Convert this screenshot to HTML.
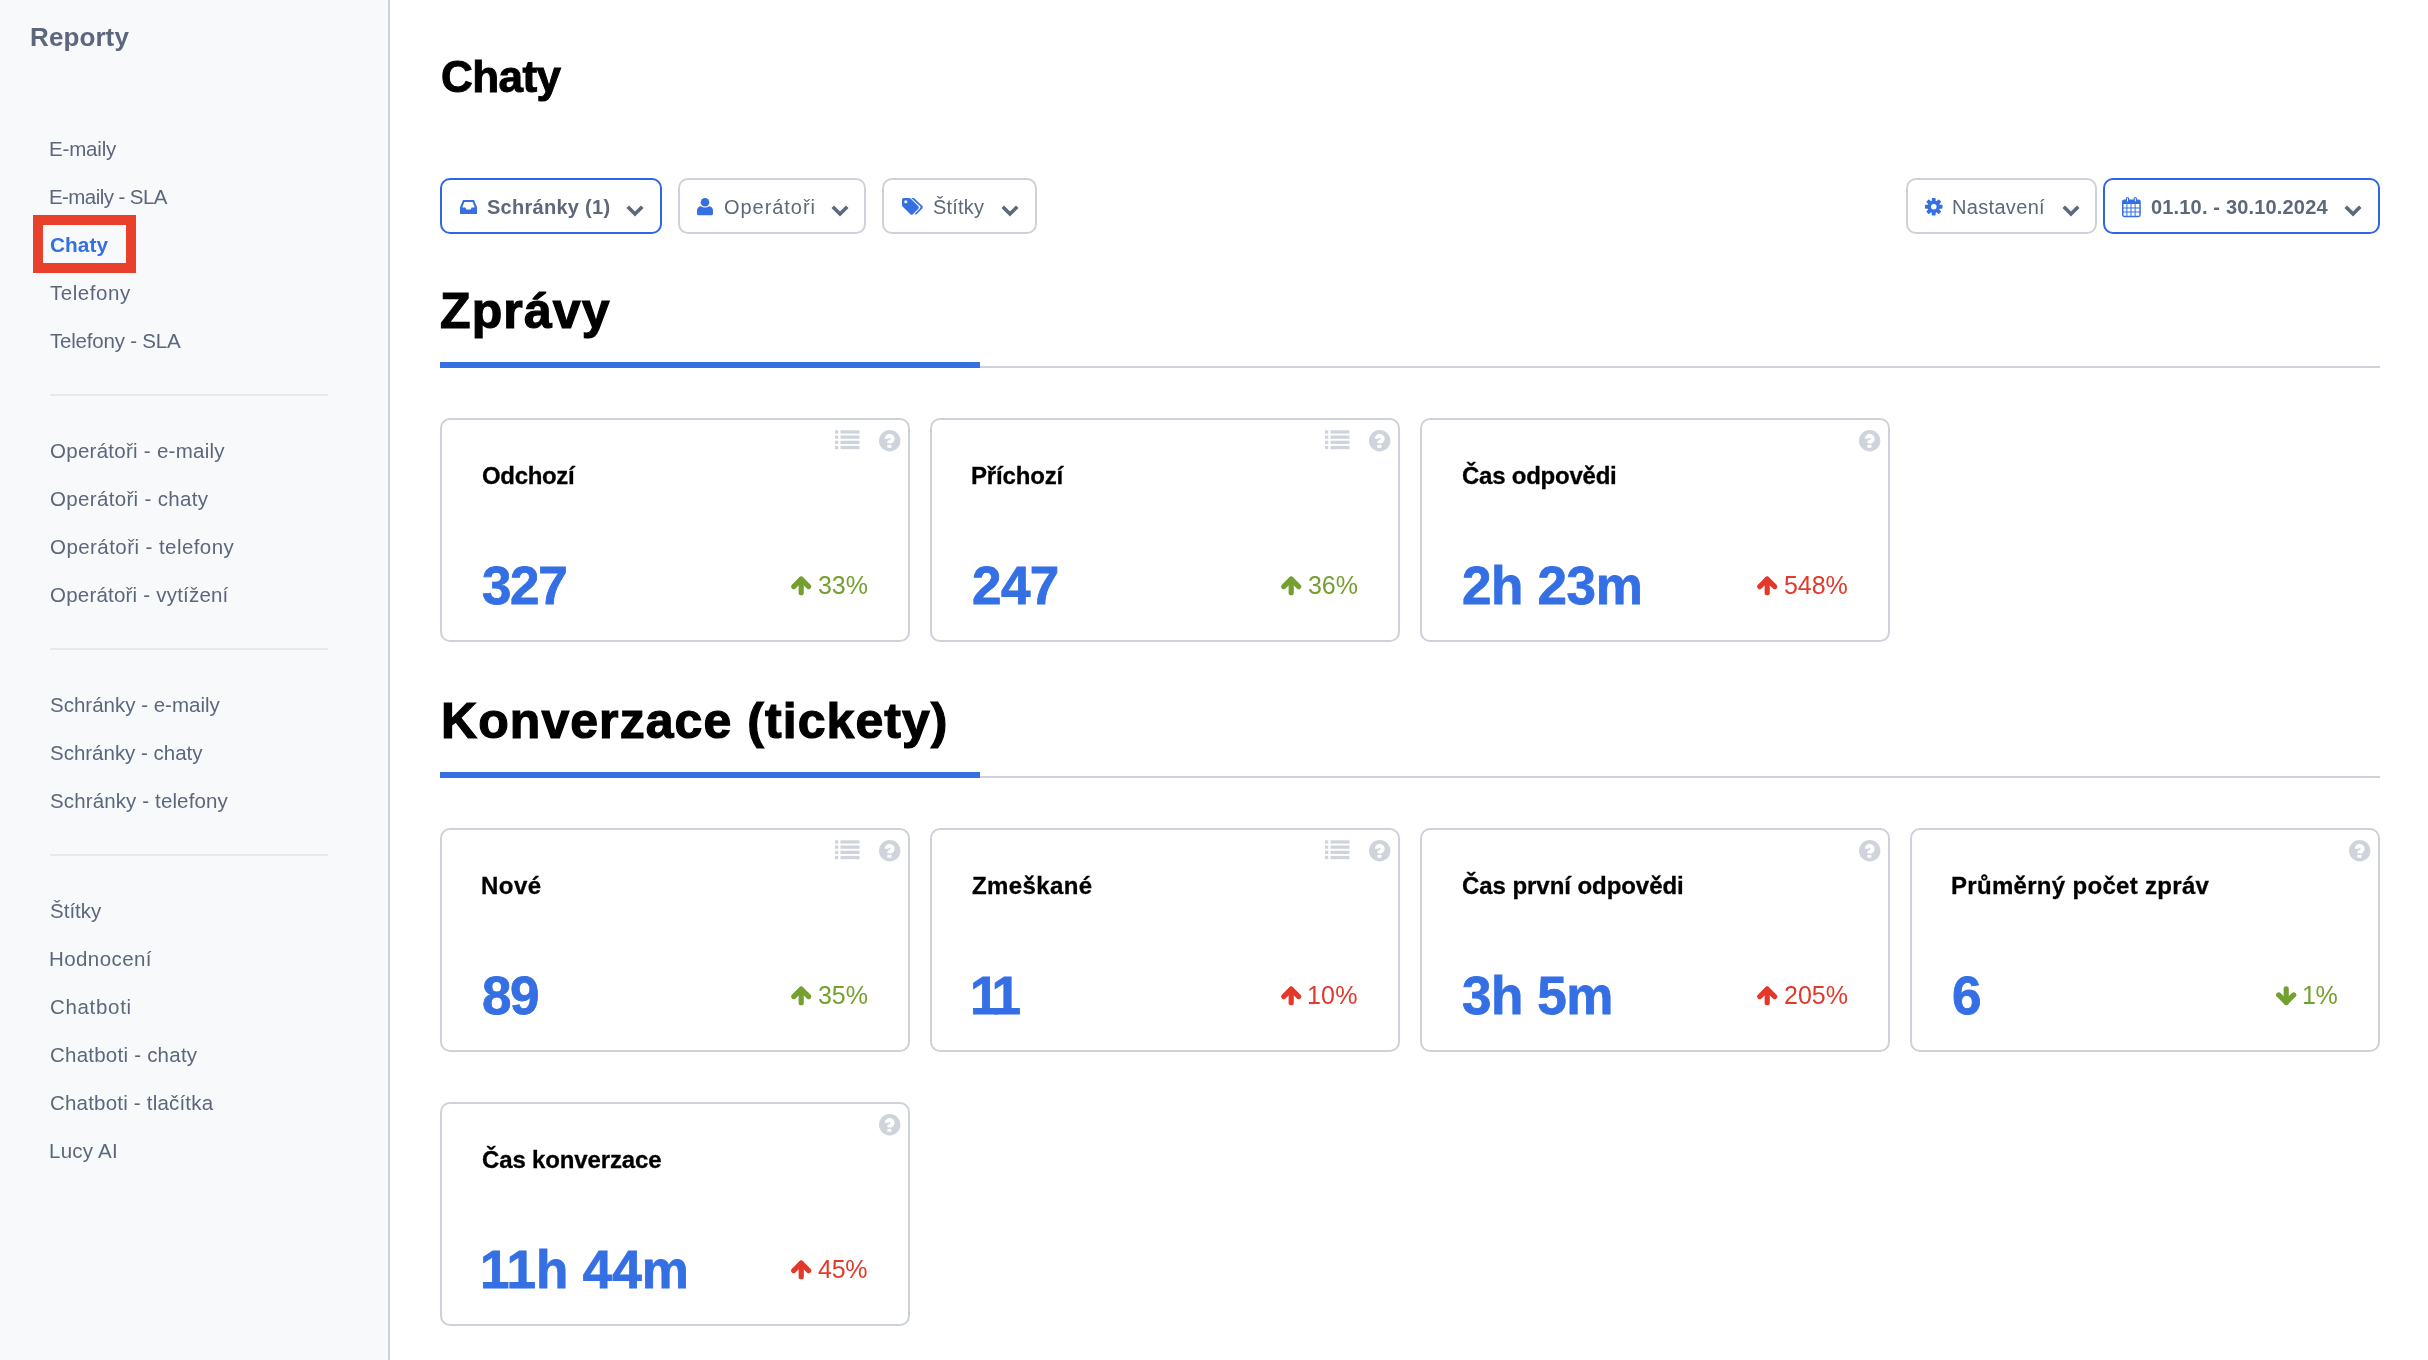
<!DOCTYPE html>
<html><head><meta charset="utf-8"><title>Chaty - Reporty</title>
<style>
html,body{margin:0;padding:0;}
body{width:2428px;height:1360px;position:relative;overflow:hidden;background:#fff;font-family:"Liberation Sans",sans-serif;}
.t{position:absolute;white-space:nowrap;will-change:transform;}
</style></head><body>
<div style="position:absolute;left:0px;top:0px;width:388px;height:1360px;background:#f8f9fb"></div>
<div style="position:absolute;left:388px;top:0px;width:2px;height:1360px;background:#cdd1d9"></div>
<div class="t" style="left:29.80px;top:22.00px;font-size:26px;line-height:30px;color:#5c677c;font-weight:700;letter-spacing:0.100px;">Reporty</div>
<div class="t" style="left:49.30px;top:137.00px;font-size:20.5px;line-height:23px;color:#5c677c;font-weight:400;letter-spacing:-0.167px;">E-maily</div>
<div class="t" style="left:49.30px;top:185.00px;font-size:20.5px;line-height:23px;color:#5c677c;font-weight:400;letter-spacing:-0.575px;">E-maily - SLA</div>
<div style="position:absolute;left:33px;top:215px;width:103px;height:58px;box-sizing:border-box;border:10px solid #e8402a"></div>
<div class="t" style="left:50.20px;top:233.00px;font-size:20.8px;line-height:23px;color:#356fe4;font-weight:700;letter-spacing:0.050px;">Chaty</div>
<div class="t" style="left:49.80px;top:281.00px;font-size:20.5px;line-height:23px;color:#5c677c;font-weight:400;letter-spacing:0.543px;">Telefony</div>
<div class="t" style="left:49.80px;top:329.00px;font-size:20.5px;line-height:23px;color:#5c677c;font-weight:400;letter-spacing:-0.208px;">Telefony - SLA</div>
<div class="t" style="left:49.90px;top:439.00px;font-size:20.5px;line-height:23px;color:#5c677c;font-weight:400;letter-spacing:0.267px;">Operátoři - e-maily</div>
<div class="t" style="left:49.90px;top:487.00px;font-size:20.5px;line-height:23px;color:#5c677c;font-weight:400;letter-spacing:0.338px;">Operátoři - chaty</div>
<div class="t" style="left:49.90px;top:535.00px;font-size:20.5px;line-height:23px;color:#5c677c;font-weight:400;letter-spacing:0.437px;">Operátoři - telefony</div>
<div class="t" style="left:49.90px;top:583.00px;font-size:20.5px;line-height:23px;color:#5c677c;font-weight:400;letter-spacing:0.211px;">Operátoři - vytížení</div>
<div class="t" style="left:49.60px;top:693.00px;font-size:20.5px;line-height:23px;color:#5c677c;font-weight:400;letter-spacing:0.000px;">Schránky - e-maily</div>
<div class="t" style="left:49.60px;top:741.00px;font-size:20.5px;line-height:23px;color:#5c677c;font-weight:400;letter-spacing:-0.013px;">Schránky - chaty</div>
<div class="t" style="left:49.60px;top:789.00px;font-size:20.5px;line-height:23px;color:#5c677c;font-weight:400;letter-spacing:0.128px;">Schránky - telefony</div>
<div class="t" style="left:49.60px;top:899.00px;font-size:20.5px;line-height:23px;color:#5c677c;font-weight:400;letter-spacing:0.020px;">Štítky</div>
<div class="t" style="left:49.30px;top:947.00px;font-size:20.5px;line-height:23px;color:#5c677c;font-weight:400;letter-spacing:0.413px;">Hodnocení</div>
<div class="t" style="left:49.60px;top:995.00px;font-size:20.5px;line-height:23px;color:#5c677c;font-weight:400;letter-spacing:0.671px;">Chatboti</div>
<div class="t" style="left:49.60px;top:1043.00px;font-size:20.5px;line-height:23px;color:#5c677c;font-weight:400;letter-spacing:0.233px;">Chatboti - chaty</div>
<div class="t" style="left:49.60px;top:1091.00px;font-size:20.5px;line-height:23px;color:#5c677c;font-weight:400;letter-spacing:0.200px;">Chatboti - tlačítka</div>
<div class="t" style="left:49.30px;top:1139.00px;font-size:20.5px;line-height:23px;color:#5c677c;font-weight:400;letter-spacing:0.233px;">Lucy AI</div>
<div style="position:absolute;left:50px;top:394px;width:278px;height:2px;background:#e6e8ec"></div>
<div style="position:absolute;left:50px;top:648px;width:278px;height:2px;background:#e6e8ec"></div>
<div style="position:absolute;left:50px;top:854px;width:278px;height:2px;background:#e6e8ec"></div>
<div class="t" style="left:440.70px;top:52.00px;font-size:44px;line-height:49px;color:#000;font-weight:700;letter-spacing:-0.550px;-webkit-text-stroke:1.0px #000;">Chaty</div>
<div style="position:absolute;left:440px;top:178px;width:222px;height:56px;box-sizing:border-box;border:2px solid #2f66e6;border-radius:10px;background:#fff"></div>
<svg style="position:absolute;left:460px;top:200px;overflow:visible" width="17" height="14" viewBox="0 0 17 14"><path fill="#356fe4" fill-rule="evenodd" d="M3 0H14L17 7.2V14H0V7.2Z M4.3 1.9H12.7L14.7 7.4H11.6L10.6 9.6H6.4L5.4 7.4H2.3Z"/></svg>
<div class="t" style="left:487.10px;top:196.00px;font-size:20px;line-height:22px;color:#5e687b;font-weight:700;letter-spacing:0.273px;">Schránky (1)</div>
<svg style="position:absolute;left:626.8px;top:206px;overflow:visible" width="16" height="10" viewBox="0 0 16 10"><polyline points="2,2 8,8 14,2" fill="none" stroke="#5e687b" stroke-width="3.6" stroke-linecap="square"/></svg>
<div style="position:absolute;left:678px;top:178px;width:188px;height:56px;box-sizing:border-box;border:2px solid #cdd1d9;border-radius:10px;background:#fff"></div>
<svg style="position:absolute;left:697.4px;top:198px;overflow:visible" width="16" height="17.5" viewBox="0 0 16 17.5"><circle cx="8" cy="4.3" r="4.3" fill="#356fe4"/><path fill="#356fe4" d="M0 12.5C0 10 1.8 8.2 4 8.2C5.2 9 6.5 9.4 8 9.4C9.5 9.4 10.8 9 12 8.2C14.2 8.2 16 10 16 12.5V15.5C16 16.6 15.3 17.3 14.2 17.3H1.8C0.7 17.3 0 16.6 0 15.5Z"/></svg>
<div class="t" style="left:723.60px;top:196.00px;font-size:20px;line-height:22px;color:#5e687b;font-weight:400;letter-spacing:0.950px;">Operátoři</div>
<svg style="position:absolute;left:831.7px;top:206px;overflow:visible" width="16" height="10" viewBox="0 0 16 10"><polyline points="2,2 8,8 14,2" fill="none" stroke="#5e687b" stroke-width="3.6" stroke-linecap="square"/></svg>
<div style="position:absolute;left:882px;top:178px;width:155px;height:56px;box-sizing:border-box;border:2px solid #cdd1d9;border-radius:10px;background:#fff"></div>
<svg style="position:absolute;left:902px;top:198px;overflow:visible" width="21" height="17" viewBox="0 0 21 17"><g transform="scale(1.045)"><path fill="#356fe4" d="M0 1.6C0 0.7 0.7 0 1.6 0H6.6C7.3 0 7.9 0.3 8.4 0.8L15.6 8C16.3 8.7 16.3 9.7 15.6 10.4L10.4 15.6C9.7 16.3 8.7 16.3 8 15.6L0.8 8.4C0.3 7.9 0 7.3 0 6.6Z"/><circle cx="3.6" cy="3.6" r="1.5" fill="#fff"/></g><path fill="#356fe4" d="M9.2 0H11C11.7 0 12.3 0.3 12.8 0.8L20.3 8C21 8.7 21 9.7 20.3 10.4L14.9 15.9C14.3 16.5 13.3 16.6 12.6 16L18 10.4C18.7 9.7 18.7 8.7 18 8Z"/></svg>
<div class="t" style="left:933.30px;top:196.00px;font-size:20px;line-height:22px;color:#5e687b;font-weight:400;letter-spacing:0.200px;">Štítky</div>
<svg style="position:absolute;left:1002px;top:206px;overflow:visible" width="16" height="10" viewBox="0 0 16 10"><polyline points="2,2 8,8 14,2" fill="none" stroke="#5e687b" stroke-width="3.6" stroke-linecap="square"/></svg>
<div style="position:absolute;left:1906px;top:178px;width:191px;height:56px;box-sizing:border-box;border:2px solid #cdd1d9;border-radius:10px;background:#fff"></div>
<svg style="position:absolute;left:1925.3px;top:198px;overflow:visible" width="17.5" height="17.5" viewBox="0 0 17.5 17.5"><g transform="translate(8.75,8.75)" fill="#356fe4"><rect x="-1.9" y="-8.8" width="3.8" height="4" rx="0.8" transform="rotate(0)"/><rect x="-1.9" y="-8.8" width="3.8" height="4" rx="0.8" transform="rotate(45)"/><rect x="-1.9" y="-8.8" width="3.8" height="4" rx="0.8" transform="rotate(90)"/><rect x="-1.9" y="-8.8" width="3.8" height="4" rx="0.8" transform="rotate(135)"/><rect x="-1.9" y="-8.8" width="3.8" height="4" rx="0.8" transform="rotate(180)"/><rect x="-1.9" y="-8.8" width="3.8" height="4" rx="0.8" transform="rotate(225)"/><rect x="-1.9" y="-8.8" width="3.8" height="4" rx="0.8" transform="rotate(270)"/><rect x="-1.9" y="-8.8" width="3.8" height="4" rx="0.8" transform="rotate(315)"/><circle r="6.2"/><circle r="2.8" fill="#fff"/></g></svg>
<div class="t" style="left:1952.30px;top:196.00px;font-size:20px;line-height:22px;color:#5e687b;font-weight:400;letter-spacing:0.325px;">Nastavení</div>
<svg style="position:absolute;left:2062.5px;top:206px;overflow:visible" width="16" height="10" viewBox="0 0 16 10"><polyline points="2,2 8,8 14,2" fill="none" stroke="#5e687b" stroke-width="3.6" stroke-linecap="square"/></svg>
<div style="position:absolute;left:2103px;top:178px;width:277px;height:56px;box-sizing:border-box;border:2px solid #2f66e6;border-radius:10px;background:#fff"></div>
<svg style="position:absolute;left:2122.2px;top:196.7px;overflow:visible" width="18.8" height="20.2" viewBox="0 0 18.8 20.2"><rect x="0.75" y="3.2" width="17.3" height="16.2" rx="1.6" fill="none" stroke="#356fe4" stroke-width="1.5"/><rect x="0.75" y="3.2" width="17.3" height="3.8" fill="#356fe4"/><rect x="3.5" y="7" width="0" height="0"/><rect x="7.6" y="7" width="0" height="0"/><rect x="11.7" y="7" width="0" height="0"/><rect x="14.8" y="7" width="0" height="0"/><rect x="4.4" y="7" width="1" height="12" fill="#356fe4"/><rect x="8.5" y="7" width="1" height="12" fill="#356fe4"/><rect x="12.6" y="7" width="1" height="12" fill="#356fe4"/><rect x="1" y="10.5" width="17" height="1" fill="#356fe4"/><rect x="1" y="14.5" width="17" height="1" fill="#356fe4"/><rect x="3.8" y="0" width="3.4" height="5.4" rx="1.7" fill="#356fe4"/><rect x="11.6" y="0" width="3.4" height="5.4" rx="1.7" fill="#356fe4"/><rect x="5" y="1.2" width="1" height="3.2" fill="#fff"/><rect x="12.8" y="1.2" width="1" height="3.2" fill="#fff"/></svg>
<div class="t" style="left:2150.80px;top:196.00px;font-size:20px;line-height:22px;color:#5e687b;font-weight:700;letter-spacing:0.172px;">01.10. - 30.10.2024</div>
<svg style="position:absolute;left:2345.1px;top:206px;overflow:visible" width="16" height="10" viewBox="0 0 16 10"><polyline points="2,2 8,8 14,2" fill="none" stroke="#5e687b" stroke-width="3.6" stroke-linecap="square"/></svg>
<div class="t" style="left:439.80px;top:283.00px;font-size:50px;line-height:56px;color:#000;font-weight:700;letter-spacing:1.120px;-webkit-text-stroke:1.2px #000;">Zprávy</div>
<div style="position:absolute;left:440px;top:362px;width:540px;height:6px;background:#356fe4"></div>
<div style="position:absolute;left:980px;top:366px;width:1400px;height:2px;background:#cdd1da"></div>
<div class="t" style="left:441.20px;top:693.00px;font-size:50px;line-height:56px;color:#000;font-weight:700;letter-spacing:1.063px;-webkit-text-stroke:1.2px #000;">Konverzace (tickety)</div>
<div style="position:absolute;left:440px;top:772px;width:540px;height:6px;background:#356fe4"></div>
<div style="position:absolute;left:980px;top:776px;width:1400px;height:2px;background:#cdd1da"></div>
<div style="position:absolute;left:440px;top:418px;width:470px;height:224px;box-sizing:border-box;border:2px solid #cdd1d9;border-radius:10px;background:#fff"></div>
<svg style="position:absolute;left:834.5px;top:430.3px;overflow:visible" width="25" height="19.5" viewBox="0 0 25 19.5"><rect x="0" y="0.3" width="3.3" height="3.3" fill="#cfd4dc"/><rect x="5.5" y="0.3" width="19" height="3.3" fill="#cfd4dc"/><rect x="0" y="5.5" width="3.3" height="3.3" fill="#cfd4dc"/><rect x="5.5" y="5.5" width="19" height="3.3" fill="#cfd4dc"/><rect x="0" y="10.7" width="3.3" height="3.3" fill="#cfd4dc"/><rect x="5.5" y="10.7" width="19" height="3.3" fill="#cfd4dc"/><rect x="0" y="15.9" width="3.3" height="3.3" fill="#cfd4dc"/><rect x="5.5" y="15.9" width="19" height="3.3" fill="#cfd4dc"/></svg>
<svg style="position:absolute;left:878.5px;top:430.2px;overflow:visible" width="21.4" height="21.4" viewBox="0 0 21.4 21.4"><circle cx="10.7" cy="10.7" r="10.7" fill="#cfd4dc"/><path d="M7.8 8.85A2.9 2.9 0 1 1 12.9 10.7L10.4 12.3V13.35" fill="none" stroke="#fff" stroke-width="4.1"/><rect x="8.35" y="14.9" width="4.1" height="2.9" fill="#fff"/></svg>
<div class="t" style="left:481.65px;top:462.00px;font-size:24px;line-height:27px;color:#000;font-weight:700;letter-spacing:-0.350px;-webkit-text-stroke:0.3px #000;">Odchozí</div>
<div class="t" style="left:482.20px;top:556.00px;font-size:53px;line-height:59px;color:#356fe4;font-weight:700;letter-spacing:-1.400px;-webkit-text-stroke:0.8px #356fe4;">327</div>
<div class="t" style="left:817.60px;top:570.60px;font-size:25px;line-height:28px;color:#73a02e;font-weight:400;letter-spacing:-0.050px;">33%</div>
<svg style="position:absolute;left:790.6px;top:576.2px;overflow:visible" width="20.3" height="19.5" viewBox="0 0 20.3 19.5"><g fill="none" stroke="#73a02e" stroke-width="5.2" stroke-linecap="round" stroke-linejoin="round"><polyline points="2.7,10.6 10.2,3.1 17.7,10.6"/><line x1="10.2" y1="3.3" x2="10.2" y2="16.7"/></g></svg>
<div style="position:absolute;left:930px;top:418px;width:470px;height:224px;box-sizing:border-box;border:2px solid #cdd1d9;border-radius:10px;background:#fff"></div>
<svg style="position:absolute;left:1324.5px;top:430.3px;overflow:visible" width="25" height="19.5" viewBox="0 0 25 19.5"><rect x="0" y="0.3" width="3.3" height="3.3" fill="#cfd4dc"/><rect x="5.5" y="0.3" width="19" height="3.3" fill="#cfd4dc"/><rect x="0" y="5.5" width="3.3" height="3.3" fill="#cfd4dc"/><rect x="5.5" y="5.5" width="19" height="3.3" fill="#cfd4dc"/><rect x="0" y="10.7" width="3.3" height="3.3" fill="#cfd4dc"/><rect x="5.5" y="10.7" width="19" height="3.3" fill="#cfd4dc"/><rect x="0" y="15.9" width="3.3" height="3.3" fill="#cfd4dc"/><rect x="5.5" y="15.9" width="19" height="3.3" fill="#cfd4dc"/></svg>
<svg style="position:absolute;left:1368.5px;top:430.2px;overflow:visible" width="21.4" height="21.4" viewBox="0 0 21.4 21.4"><circle cx="10.7" cy="10.7" r="10.7" fill="#cfd4dc"/><path d="M7.8 8.85A2.9 2.9 0 1 1 12.9 10.7L10.4 12.3V13.35" fill="none" stroke="#fff" stroke-width="4.1"/><rect x="8.35" y="14.9" width="4.1" height="2.9" fill="#fff"/></svg>
<div class="t" style="left:971.05px;top:462.00px;font-size:24px;line-height:27px;color:#000;font-weight:700;letter-spacing:-0.157px;-webkit-text-stroke:0.3px #000;">Příchozí</div>
<div class="t" style="left:971.60px;top:556.00px;font-size:53px;line-height:59px;color:#356fe4;font-weight:700;letter-spacing:-0.600px;-webkit-text-stroke:0.8px #356fe4;">247</div>
<div class="t" style="left:1307.60px;top:570.60px;font-size:25px;line-height:28px;color:#73a02e;font-weight:400;letter-spacing:-0.050px;">36%</div>
<svg style="position:absolute;left:1280.6px;top:576.2px;overflow:visible" width="20.3" height="19.5" viewBox="0 0 20.3 19.5"><g fill="none" stroke="#73a02e" stroke-width="5.2" stroke-linecap="round" stroke-linejoin="round"><polyline points="2.7,10.6 10.2,3.1 17.7,10.6"/><line x1="10.2" y1="3.3" x2="10.2" y2="16.7"/></g></svg>
<div style="position:absolute;left:1420px;top:418px;width:470px;height:224px;box-sizing:border-box;border:2px solid #cdd1d9;border-radius:10px;background:#fff"></div>
<svg style="position:absolute;left:1858.5px;top:430.2px;overflow:visible" width="21.4" height="21.4" viewBox="0 0 21.4 21.4"><circle cx="10.7" cy="10.7" r="10.7" fill="#cfd4dc"/><path d="M7.8 8.85A2.9 2.9 0 1 1 12.9 10.7L10.4 12.3V13.35" fill="none" stroke="#fff" stroke-width="4.1"/><rect x="8.35" y="14.9" width="4.1" height="2.9" fill="#fff"/></svg>
<div class="t" style="left:1461.65px;top:462.00px;font-size:24px;line-height:27px;color:#000;font-weight:700;letter-spacing:-0.236px;-webkit-text-stroke:0.3px #000;">Čas odpovědi</div>
<div class="t" style="left:1461.60px;top:556.00px;font-size:53px;line-height:59px;color:#356fe4;font-weight:700;letter-spacing:-0.360px;-webkit-text-stroke:0.8px #356fe4;">2h 23m</div>
<div class="t" style="left:1783.80px;top:570.60px;font-size:25px;line-height:28px;color:#e2392a;font-weight:400;letter-spacing:-0.067px;">548%</div>
<svg style="position:absolute;left:1756.8px;top:576.2px;overflow:visible" width="20.3" height="19.5" viewBox="0 0 20.3 19.5"><g fill="none" stroke="#e2392a" stroke-width="5.2" stroke-linecap="round" stroke-linejoin="round"><polyline points="2.7,10.6 10.2,3.1 17.7,10.6"/><line x1="10.2" y1="3.3" x2="10.2" y2="16.7"/></g></svg>
<div style="position:absolute;left:440px;top:828px;width:470px;height:224px;box-sizing:border-box;border:2px solid #cdd1d9;border-radius:10px;background:#fff"></div>
<svg style="position:absolute;left:834.5px;top:840.3px;overflow:visible" width="25" height="19.5" viewBox="0 0 25 19.5"><rect x="0" y="0.3" width="3.3" height="3.3" fill="#cfd4dc"/><rect x="5.5" y="0.3" width="19" height="3.3" fill="#cfd4dc"/><rect x="0" y="5.5" width="3.3" height="3.3" fill="#cfd4dc"/><rect x="5.5" y="5.5" width="19" height="3.3" fill="#cfd4dc"/><rect x="0" y="10.7" width="3.3" height="3.3" fill="#cfd4dc"/><rect x="5.5" y="10.7" width="19" height="3.3" fill="#cfd4dc"/><rect x="0" y="15.9" width="3.3" height="3.3" fill="#cfd4dc"/><rect x="5.5" y="15.9" width="19" height="3.3" fill="#cfd4dc"/></svg>
<svg style="position:absolute;left:878.5px;top:840.2px;overflow:visible" width="21.4" height="21.4" viewBox="0 0 21.4 21.4"><circle cx="10.7" cy="10.7" r="10.7" fill="#cfd4dc"/><path d="M7.8 8.85A2.9 2.9 0 1 1 12.9 10.7L10.4 12.3V13.35" fill="none" stroke="#fff" stroke-width="4.1"/><rect x="8.35" y="14.9" width="4.1" height="2.9" fill="#fff"/></svg>
<div class="t" style="left:481.05px;top:872.00px;font-size:24px;line-height:27px;color:#000;font-weight:700;letter-spacing:0.500px;-webkit-text-stroke:0.3px #000;">Nové</div>
<div class="t" style="left:481.70px;top:966.00px;font-size:53px;line-height:59px;color:#356fe4;font-weight:700;letter-spacing:-1.600px;-webkit-text-stroke:0.8px #356fe4;">89</div>
<div class="t" style="left:817.60px;top:980.60px;font-size:25px;line-height:28px;color:#73a02e;font-weight:400;letter-spacing:-0.050px;">35%</div>
<svg style="position:absolute;left:790.6px;top:986.2px;overflow:visible" width="20.3" height="19.5" viewBox="0 0 20.3 19.5"><g fill="none" stroke="#73a02e" stroke-width="5.2" stroke-linecap="round" stroke-linejoin="round"><polyline points="2.7,10.6 10.2,3.1 17.7,10.6"/><line x1="10.2" y1="3.3" x2="10.2" y2="16.7"/></g></svg>
<div style="position:absolute;left:930px;top:828px;width:470px;height:224px;box-sizing:border-box;border:2px solid #cdd1d9;border-radius:10px;background:#fff"></div>
<svg style="position:absolute;left:1324.5px;top:840.3px;overflow:visible" width="25" height="19.5" viewBox="0 0 25 19.5"><rect x="0" y="0.3" width="3.3" height="3.3" fill="#cfd4dc"/><rect x="5.5" y="0.3" width="19" height="3.3" fill="#cfd4dc"/><rect x="0" y="5.5" width="3.3" height="3.3" fill="#cfd4dc"/><rect x="5.5" y="5.5" width="19" height="3.3" fill="#cfd4dc"/><rect x="0" y="10.7" width="3.3" height="3.3" fill="#cfd4dc"/><rect x="5.5" y="10.7" width="19" height="3.3" fill="#cfd4dc"/><rect x="0" y="15.9" width="3.3" height="3.3" fill="#cfd4dc"/><rect x="5.5" y="15.9" width="19" height="3.3" fill="#cfd4dc"/></svg>
<svg style="position:absolute;left:1368.5px;top:840.2px;overflow:visible" width="21.4" height="21.4" viewBox="0 0 21.4 21.4"><circle cx="10.7" cy="10.7" r="10.7" fill="#cfd4dc"/><path d="M7.8 8.85A2.9 2.9 0 1 1 12.9 10.7L10.4 12.3V13.35" fill="none" stroke="#fff" stroke-width="4.1"/><rect x="8.35" y="14.9" width="4.1" height="2.9" fill="#fff"/></svg>
<div class="t" style="left:971.95px;top:872.00px;font-size:24px;line-height:27px;color:#000;font-weight:700;letter-spacing:0.400px;-webkit-text-stroke:0.3px #000;">Zmeškané</div>
<div class="t" style="left:970.10px;top:966.00px;font-size:53px;line-height:59px;color:#356fe4;font-weight:700;letter-spacing:-5.100px;-webkit-text-stroke:0.8px #356fe4;">11</div>
<div class="t" style="left:1307.10px;top:980.60px;font-size:25px;line-height:28px;color:#e2392a;font-weight:400;letter-spacing:0.200px;">10%</div>
<svg style="position:absolute;left:1281.0px;top:986.2px;overflow:visible" width="20.3" height="19.5" viewBox="0 0 20.3 19.5"><g fill="none" stroke="#e2392a" stroke-width="5.2" stroke-linecap="round" stroke-linejoin="round"><polyline points="2.7,10.6 10.2,3.1 17.7,10.6"/><line x1="10.2" y1="3.3" x2="10.2" y2="16.7"/></g></svg>
<div style="position:absolute;left:1420px;top:828px;width:470px;height:224px;box-sizing:border-box;border:2px solid #cdd1d9;border-radius:10px;background:#fff"></div>
<svg style="position:absolute;left:1858.5px;top:840.2px;overflow:visible" width="21.4" height="21.4" viewBox="0 0 21.4 21.4"><circle cx="10.7" cy="10.7" r="10.7" fill="#cfd4dc"/><path d="M7.8 8.85A2.9 2.9 0 1 1 12.9 10.7L10.4 12.3V13.35" fill="none" stroke="#fff" stroke-width="4.1"/><rect x="8.35" y="14.9" width="4.1" height="2.9" fill="#fff"/></svg>
<div class="t" style="left:1461.65px;top:872.00px;font-size:24px;line-height:27px;color:#000;font-weight:700;letter-spacing:-0.059px;-webkit-text-stroke:0.3px #000;">Čas první odpovědi</div>
<div class="t" style="left:1462.20px;top:966.00px;font-size:53px;line-height:59px;color:#356fe4;font-weight:700;letter-spacing:-0.450px;-webkit-text-stroke:0.8px #356fe4;">3h 5m</div>
<div class="t" style="left:1783.50px;top:980.60px;font-size:25px;line-height:28px;color:#e2392a;font-weight:400;letter-spacing:0.033px;">205%</div>
<svg style="position:absolute;left:1756.8px;top:986.2px;overflow:visible" width="20.3" height="19.5" viewBox="0 0 20.3 19.5"><g fill="none" stroke="#e2392a" stroke-width="5.2" stroke-linecap="round" stroke-linejoin="round"><polyline points="2.7,10.6 10.2,3.1 17.7,10.6"/><line x1="10.2" y1="3.3" x2="10.2" y2="16.7"/></g></svg>
<div style="position:absolute;left:1910px;top:828px;width:470px;height:224px;box-sizing:border-box;border:2px solid #cdd1d9;border-radius:10px;background:#fff"></div>
<svg style="position:absolute;left:2348.5px;top:840.2px;overflow:visible" width="21.4" height="21.4" viewBox="0 0 21.4 21.4"><circle cx="10.7" cy="10.7" r="10.7" fill="#cfd4dc"/><path d="M7.8 8.85A2.9 2.9 0 1 1 12.9 10.7L10.4 12.3V13.35" fill="none" stroke="#fff" stroke-width="4.1"/><rect x="8.35" y="14.9" width="4.1" height="2.9" fill="#fff"/></svg>
<div class="t" style="left:1951.05px;top:872.00px;font-size:24px;line-height:27px;color:#000;font-weight:700;letter-spacing:0.305px;-webkit-text-stroke:0.3px #000;">Průměrný počet zpráv</div>
<div class="t" style="left:1951.50px;top:966.00px;font-size:53px;line-height:59px;color:#356fe4;font-weight:700;-webkit-text-stroke:0.8px #356fe4;">6</div>
<div class="t" style="left:2301.70px;top:980.60px;font-size:25px;line-height:28px;color:#73a02e;font-weight:400;letter-spacing:-0.300px;">1%</div>
<svg style="position:absolute;left:2275.6px;top:986.2px;overflow:visible" width="20.3" height="19.5" viewBox="0 0 20.3 19.5"><g fill="none" stroke="#73a02e" stroke-width="5.2" stroke-linecap="round" stroke-linejoin="round"><polyline points="2.7,8.9 10.2,16.4 17.7,8.9"/><line x1="10.2" y1="16.2" x2="10.2" y2="2.8"/></g></svg>
<div style="position:absolute;left:440px;top:1102px;width:470px;height:224px;box-sizing:border-box;border:2px solid #cdd1d9;border-radius:10px;background:#fff"></div>
<svg style="position:absolute;left:878.5px;top:1114.2px;overflow:visible" width="21.4" height="21.4" viewBox="0 0 21.4 21.4"><circle cx="10.7" cy="10.7" r="10.7" fill="#cfd4dc"/><path d="M7.8 8.85A2.9 2.9 0 1 1 12.9 10.7L10.4 12.3V13.35" fill="none" stroke="#fff" stroke-width="4.1"/><rect x="8.35" y="14.9" width="4.1" height="2.9" fill="#fff"/></svg>
<div class="t" style="left:481.65px;top:1146.00px;font-size:24px;line-height:27px;color:#000;font-weight:700;letter-spacing:-0.146px;-webkit-text-stroke:0.3px #000;">Čas konverzace</div>
<div class="t" style="left:480.10px;top:1240.00px;font-size:53px;line-height:59px;color:#356fe4;font-weight:700;letter-spacing:-0.067px;-webkit-text-stroke:0.8px #356fe4;">11h 44m</div>
<div class="t" style="left:818.00px;top:1254.60px;font-size:25px;line-height:28px;color:#e2392a;font-weight:400;letter-spacing:-0.250px;">45%</div>
<svg style="position:absolute;left:790.6px;top:1260.2px;overflow:visible" width="20.3" height="19.5" viewBox="0 0 20.3 19.5"><g fill="none" stroke="#e2392a" stroke-width="5.2" stroke-linecap="round" stroke-linejoin="round"><polyline points="2.7,10.6 10.2,3.1 17.7,10.6"/><line x1="10.2" y1="3.3" x2="10.2" y2="16.7"/></g></svg>
</body></html>
